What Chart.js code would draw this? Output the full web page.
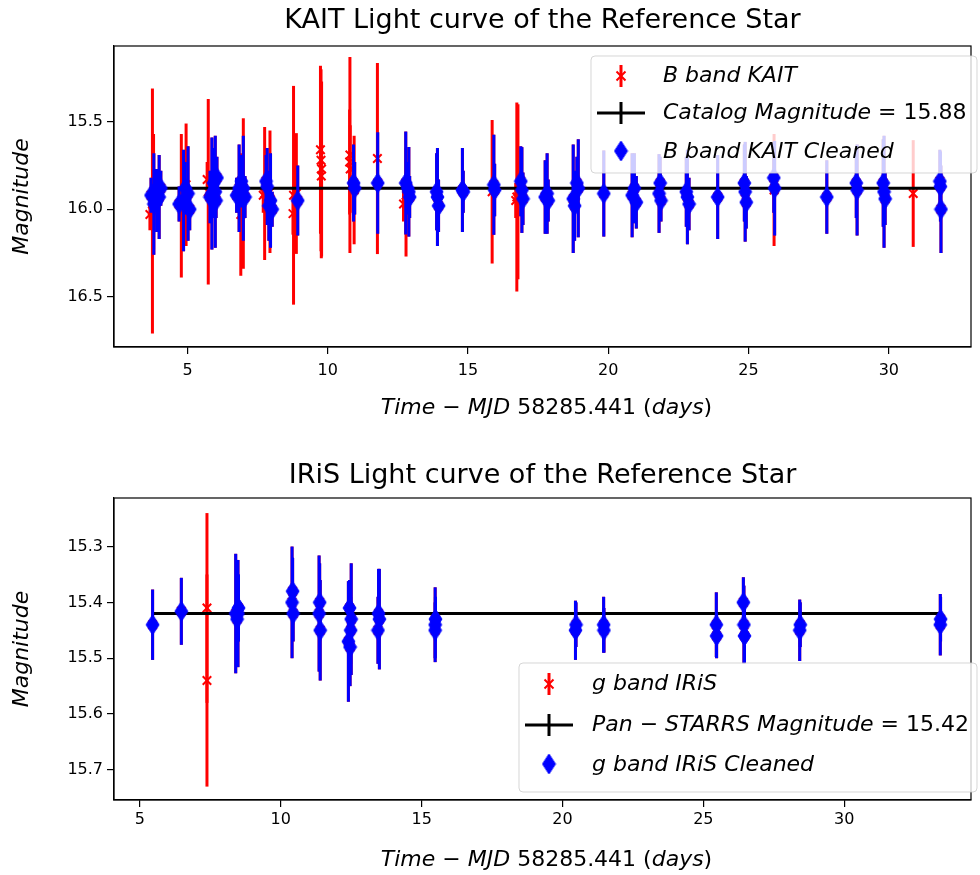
<!DOCTYPE html>
<html lang="en">
<head>
<meta charset="UTF-8">
<title>Reference star light curves</title>
<script src="https://cdn.jsdelivr.net/npm/chart.js@4.4.1/dist/chart.umd.min.js"></script>
<style>
  body { margin: 0; background: #fff; }
  .panel { position: absolute; left: 0; width: 980px; }
</style>
</head>
<body>
<div class="panel" style="top:0;height:437px"><canvas id="kait"></canvas></div>
<div class="panel" style="top:437px;height:438px"><canvas id="iris"></canvas></div>
<script>
// KAIT B band, every measurement (keep = 1 when it survived the cleaning)
const kaitTime = [
  3.66, 3.75, 3.79, 3.70, 3.80, 3.86, 3.90, 3.99, 4.05,
  4.78, 4.95, 4.70, 4.86, 4.92, 5.02, 5.08,
  5.74, 5.70, 5.80, 5.87, 5.93, 5.99, 6.05, 6.02,
  6.90, 6.99, 6.75, 6.84, 6.92, 6.99, 7.05,
  7.75, 7.70, 7.94, 7.80, 7.84, 7.90, 7.96, 8.02,
  8.78, 8.76, 8.88, 8.93,
  9.74, 9.76, 9.78, 9.77,
  10.79, 10.78, 10.80, 10.94, 10.92, 10.96,
  11.77, 11.78,
  12.79, 12.70, 12.78, 12.85, 12.89, 12.92,
  13.88, 13.91, 13.95,
  14.80, 14.83,
  15.86, 15.92, 15.95,
  16.74, 16.78, 16.70, 16.88, 16.92, 16.96,
  17.75, 17.82, 17.86,
  18.75, 18.80, 18.93, 18.88,
  19.84,
  20.85, 20.93, 21.00,
  21.81, 21.85, 21.88,
  22.78, 22.82, 22.88,
  23.90,
  24.85, 24.88, 24.92,
  25.91, 25.90, 25.93,
  27.79,
  28.84, 28.87,
  29.80, 29.83, 29.87,
  30.87,
  31.82, 31.84, 31.86
];
const kaitMag = [
  16.03, 16.01, 15.90, 15.92, 15.97, 15.89, 15.95, 15.93, 15.88,
  15.98, 15.86, 15.97, 15.95, 15.88, 15.91, 16.00,
  15.90, 15.83, 15.93, 15.91, 15.85, 15.90, 15.82, 15.95,
  16.03, 15.91, 15.92, 15.88, 15.84, 15.88, 15.93,
  15.91, 15.92, 15.90, 15.84, 15.87, 15.98, 15.95, 16.00,
  15.92, 16.025, 15.91, 15.95,
  15.66, 15.72, 15.77, 15.81,
  15.69, 15.73, 15.77, 15.89, 15.85, 15.88,
  15.71, 15.85,
  15.96, 15.97, 15.85, 15.88, 15.90, 15.93,
  15.90, 15.93, 15.98,
  15.89, 15.90,
  15.90, 15.86, 15.89,
  15.93, 15.90, 15.95, 15.84, 15.89, 15.94,
  15.93, 15.91, 15.95,
  15.94, 15.98, 15.88, 15.85,
  15.91,
  15.92, 15.88, 15.96,
  15.91, 15.85, 15.95,
  15.90, 15.93, 15.97,
  15.93,
  15.85, 15.90, 15.96,
  15.89, 15.82, 15.88,
  15.93,
  15.85, 15.89,
  15.85, 15.90, 15.94,
  15.91,
  15.84, 15.87, 16.00
];
const kaitErr = [
  0.09, 0.70, 0.33, 0.10, 0.29, 0.12, 0.18, 0.24, 0.10,
  0.41, 0.35, 0.10, 0.29, 0.15, 0.27, 0.12,
  0.53, 0.10, 0.15, 0.32, 0.20, 0.32, 0.12, 0.10,
  0.35, 0.43, 0.10, 0.25, 0.15, 0.30, 0.12,
  0.38, 0.10, 0.35, 0.15, 0.22, 0.20, 0.27, 0.10,
  0.625, 0.12, 0.345, 0.20,
  0.48, 0.52, 0.50, 0.47,
  0.56, 0.30, 0.25, 0.31, 0.22, 0.15,
  0.546, 0.29,
  0.31, 0.10, 0.294, 0.15, 0.256, 0.12,
  0.22, 0.28, 0.15,
  0.24, 0.12,
  0.41, 0.286, 0.15,
  0.54, 0.50, 0.10, 0.20, 0.245, 0.15,
  0.21, 0.23, 0.12,
  0.31, 0.20, 0.28, 0.15,
  0.246,
  0.24, 0.20, 0.15,
  0.225, 0.15, 0.12,
  0.20, 0.27, 0.15,
  0.24,
  0.22, 0.285, 0.15,
  0.32, 0.20, 0.27,
  0.21,
  0.20, 0.26,
  0.25, 0.32, 0.15,
  0.305,
  0.18, 0.20, 0.25
];
const kaitKeep = [
  0, 0, 0, 1, 1, 1, 1, 1, 1,
  0, 0, 1, 1, 1, 1, 1,
  0, 0, 1, 1, 1, 1, 1, 1,
  0, 0, 1, 1, 1, 1, 1,
  0, 0, 0, 1, 1, 1, 1, 1,
  0, 0, 0, 1,
  0, 0, 0, 0,
  0, 0, 0, 0, 1, 1,
  0, 1,
  0, 0, 1, 1, 1, 1,
  1, 1, 1,
  1, 1,
  0, 1, 1,
  0, 0, 0, 1, 1, 1,
  1, 1, 1,
  1, 1, 1, 1,
  1,
  1, 1, 1,
  1, 1, 1,
  1, 1, 1,
  1,
  1, 1, 1,
  0, 1, 1,
  1,
  1, 1,
  1, 1, 1,
  0,
  1, 1, 1
];
const kaitCatalog = 15.88;
const kaitXTicks = [5, 10, 15, 20, 25, 30];
const kaitYTicks = [15.5, 16.0, 16.5];

// IRiS g band
const irisTime = [5.45, 6.47, 7.38, 7.38, 8.40, 8.45, 8.48, 8.50, 10.40, 10.42, 10.44,
  11.36, 11.38, 11.40, 12.40, 12.44, 12.46, 12.48, 12.50, 13.45, 13.47, 13.50,
  15.48, 15.48, 15.49, 20.46, 20.48, 21.46, 21.47, 25.46, 25.47, 26.42, 26.44, 26.46,
  28.42, 28.44, 33.41, 33.42];
const irisMag = [15.44, 15.416, 15.41, 15.54, 15.42, 15.43, 15.42, 15.41, 15.40, 15.38, 15.42,
  15.42, 15.40, 15.45, 15.47, 15.41, 15.48, 15.45, 15.43, 15.45, 15.42, 15.43,
  15.44, 15.45, 15.43, 15.45, 15.44, 15.44, 15.45, 15.44, 15.46, 15.40, 15.44, 15.46,
  15.45, 15.44, 15.44, 15.43];
const irisErr = [0.063, 0.06, 0.17, 0.19, 0.107, 0.05, 0.096, 0.06, 0.10, 0.06, 0.05,
  0.104, 0.07, 0.09, 0.108, 0.05, 0.07, 0.06, 0.10, 0.06, 0.08, 0.09,
  0.067, 0.05, 0.04, 0.053, 0.04, 0.05, 0.04, 0.058, 0.04, 0.045, 0.07, 0.048,
  0.055, 0.04, 0.055, 0.04];
const irisKeep = [1, 1, 0, 0, 1, 1, 1, 1, 1, 1, 1,
  1, 1, 1, 1, 1, 1, 1, 1, 1, 1, 1,
  1, 1, 1, 1, 1, 1, 1, 1, 1, 1, 1, 1,
  1, 1, 1, 1];
const irisCatalog = 15.42;
const irisXTicks = [5, 10, 15, 20, 25, 30];
const irisYTicks = [15.3, 15.4, 15.5, 15.6, 15.7];

const FONT = '"DejaVu Sans", sans-serif';
Chart.defaults.font.family = FONT;
Chart.defaults.color = '#000';

// matplotlib-like thin diamond marker
function thinDiamond(w, h, color) {
  const c = document.createElement('canvas');
  c.width = w + 2; c.height = h + 2;
  const g = c.getContext('2d');
  g.fillStyle = color; g.strokeStyle = color; g.lineWidth = 1;
  g.beginPath();
  g.moveTo(c.width / 2, 1);
  g.lineTo(c.width - 1, c.height / 2);
  g.lineTo(c.width / 2, c.height - 1);
  g.lineTo(1, c.height / 2);
  g.closePath(); g.fill(); g.stroke();
  return c;
}
const diamond = thinDiamond(13, 20, '#0000ff');

// text made of italic / upright pieces, like mathtext
function drawRuns(ctx, runs, x, y, size, center) {
  const fontOf = it => (it ? 'italic ' : '') + size + 'px ' + FONT;
  let w = 0;
  runs.forEach(([t, it]) => { ctx.font = fontOf(it); w += ctx.measureText(t).width; });
  let cx = center ? x - w / 2 : x;
  ctx.textBaseline = 'middle';
  ctx.textAlign = 'left';
  ctx.fillStyle = '#000';
  runs.forEach(([t, it]) => {
    ctx.font = fontOf(it);
    ctx.fillText(t, cx, y);
    cx += ctx.measureText(t).width;
  });
}

function drawHandle(ctx, kind, cx, cy) {
  ctx.save();
  if (kind === 'raw') {
    ctx.strokeStyle = '#ff0000'; ctx.lineWidth = 3;
    ctx.beginPath(); ctx.moveTo(cx, cy - 11); ctx.lineTo(cx, cy + 11); ctx.stroke();
    ctx.lineWidth = 2;
    ctx.beginPath();
    ctx.moveTo(cx - 4.5, cy - 4.5); ctx.lineTo(cx + 4.5, cy + 4.5);
    ctx.moveTo(cx - 4.5, cy + 4.5); ctx.lineTo(cx + 4.5, cy - 4.5);
    ctx.stroke();
  } else if (kind === 'line') {
    ctx.strokeStyle = '#000'; ctx.lineWidth = 3;
    ctx.beginPath();
    ctx.moveTo(cx - 24, cy); ctx.lineTo(cx + 24, cy);
    ctx.moveTo(cx, cy - 11); ctx.lineTo(cx, cy + 11);
    ctx.stroke();
  } else {
    ctx.drawImage(diamond, cx - diamond.width / 2, cy - diamond.height / 2 - 1);
  }
  ctx.restore();
}

// vertical error bars, drawn just under the markers of their own dataset
const errorBars = {
  id: 'errorBars',
  beforeDatasetDraw(chart, args) {
    const ds = chart.data.datasets[args.index];
    if (!ds.errors) return;
    const { ctx, chartArea: a, scales: { x, y } } = chart;
    ctx.save();
    ctx.beginPath();
    ctx.rect(a.left, a.top, a.right - a.left, a.bottom - a.top);
    ctx.clip();
    ctx.strokeStyle = ds.barColor;
    ctx.lineWidth = 3;
    ds.data.forEach((p, i) => {
      const px = x.getPixelForValue(p.x);
      ctx.beginPath();
      ctx.moveTo(px, y.getPixelForValue(p.y - ds.errors[i]));
      ctx.lineTo(px, y.getPixelForValue(p.y + ds.errors[i]));
      ctx.stroke();
    });
    ctx.restore();
  }
};

function lightCurve(id, c) {
  const all = c.time.map((t, i) => ({ x: t, y: c.mag[i] }));
  const kept = all.filter((p, i) => c.keep[i]);
  const keptErr = c.err.filter((e, i) => c.keep[i]);
  const tMin = Math.min(...c.time), tMax = Math.max(...c.time);

  const decor = {
    id: 'decor',
    afterDraw(chart) {
      const { ctx, chartArea: a } = chart;
      ctx.save();
      ctx.strokeStyle = '#000'; ctx.lineWidth = 1.2;
      ctx.strokeRect(a.left, a.top, a.right - a.left, a.bottom - a.top);
      drawRuns(ctx, c.xTitle, (a.left + a.right) / 2 + 4, c.xTitleY, 22, true);

      const L = c.legend;
      ctx.beginPath();
      ctx.roundRect(L.x, L.y, L.w, L.h, 4);
      ctx.fillStyle = 'rgba(255,255,255,0.8)';
      ctx.fill();
      ctx.strokeStyle = 'rgba(204,204,204,0.8)'; ctx.lineWidth = 1;
      ctx.stroke();
      L.rows.forEach((r, i) => {
        drawHandle(ctx, r.kind, L.handleX, L.rowY[i]);
        drawRuns(ctx, r.text, L.textX, L.rowY[i], 22, false);
      });
      ctx.restore();
    }
  };

  const axisStyle = {
    grid: { drawOnChartArea: false, tickLength: 7, color: '#000', lineWidth: 1.2 },
    border: { color: '#000', width: 1.2 }
  };

  return new Chart(document.getElementById(id), {
    type: 'scatter',
    data: {
      datasets: [
        { label: 'cleaned', data: kept, errors: keptErr, barColor: '#0000ff',
          pointStyle: diamond, pointRadius: 8, order: 1 },
        { label: 'catalog', data: [{ x: tMin, y: c.catalog }, { x: tMax, y: c.catalog }],
          showLine: true, borderColor: '#000', borderWidth: 3, pointRadius: 0, order: 2 },
        { label: 'raw', data: all, errors: c.err, barColor: '#ff0000',
          pointStyle: 'crossRot', pointRadius: 6, borderColor: '#ff0000',
          backgroundColor: '#ff0000', borderWidth: 2, order: 3 }
      ]
    },
    options: {
      responsive: true,
      maintainAspectRatio: false,
      animation: false,
      events: [],
      layout: { padding: { left: 0, right: 2, top: 0, bottom: 0 } },
      plugins: {
        legend: { display: false },
        tooltip: { enabled: false },
        title: {
          display: true, text: c.title, color: '#000', fullSize: false,
          font: { size: 27, weight: 'normal' },
          padding: c.titlePad
        }
      },
      scales: {
        x: {
          type: 'linear', min: c.xMin, max: c.xMax,
          afterBuildTicks: s => { s.ticks = c.xTicks.map(v => ({ value: v })); },
          afterFit: s => { s.height = c.xAxisH; },
          ticks: { font: { size: 16 }, padding: c.xTickPad, color: '#000', callback: v => String(v) },
          ...axisStyle
        },
        y: {
          reverse: true, min: c.yMin, max: c.yMax,
          afterBuildTicks: s => { s.ticks = c.yTicks.map(v => ({ value: v })); },
          afterFit: s => { s.width = 114; },
          ticks: { font: { size: 16 }, padding: 4, color: '#000', callback: v => v.toFixed(1) },
          title: { display: true, text: 'Magnitude', color: '#000',
                   font: { size: 22, style: 'italic' }, padding: { top: 9, bottom: 0 } },
          ...axisStyle
        }
      }
    },
    plugins: [errorBars, decor]
  });
}

const timeTitle = [['Time', true], [' \u2212 ', false], ['MJD', true],
                   [' 58285.441 (', false], ['days', true], [')', false]];

lightCurve('kait', {
  time: kaitTime, mag: kaitMag, err: kaitErr, keep: kaitKeep, catalog: kaitCatalog,
  xTicks: kaitXTicks, yTicks: kaitYTicks,
  xMin: 2.38, xMax: 32.93, yMin: 15.067, yMax: 16.787,
  title: 'KAIT Light curve of the Reference Star',
  titlePad: { top: 5, bottom: 8.6 }, xAxisH: 90, xTickPad: 7,
  xTitle: timeTitle, xTitleY: 408,
  legend: {
    x: 591, y: 56, w: 386, h: 117, handleX: 621, textX: 663, rowY: [76, 113, 152],
    rows: [
      { kind: 'raw', text: [['B band KAIT', true]] },
      { kind: 'line', text: [['Catalog Magnitude', true], [' = 15.88', false]] },
      { kind: 'clean', text: [['B band KAIT Cleaned', true]] }
    ]
  }
});

lightCurve('iris', {
  time: irisTime, mag: irisMag, err: irisErr, keep: irisKeep, catalog: irisCatalog,
  xTicks: irisXTicks, yTicks: irisYTicks,
  xMin: 4.08, xMax: 34.5, yMin: 15.213, yMax: 15.754,
  title: 'IRiS Light curve of the Reference Star',
  titlePad: { top: 22.4, bottom: 6.2 }, xAxisH: 75, xTickPad: 3,
  xTitle: timeTitle, xTitleY: 423,
  legend: {
    x: 519, y: 226, w: 458, h: 129, handleX: 549, textX: 592, rowY: [247, 288, 328],
    rows: [
      { kind: 'raw', text: [['g band IRiS', true]] },
      { kind: 'line', text: [['Pan', true], [' \u2212 ', false], ['STARRS Magnitude', true], [' = 15.42', false]] },
      { kind: 'clean', text: [['g band IRiS Cleaned', true]] }
    ]
  }
});
</script>
</body>
</html>
